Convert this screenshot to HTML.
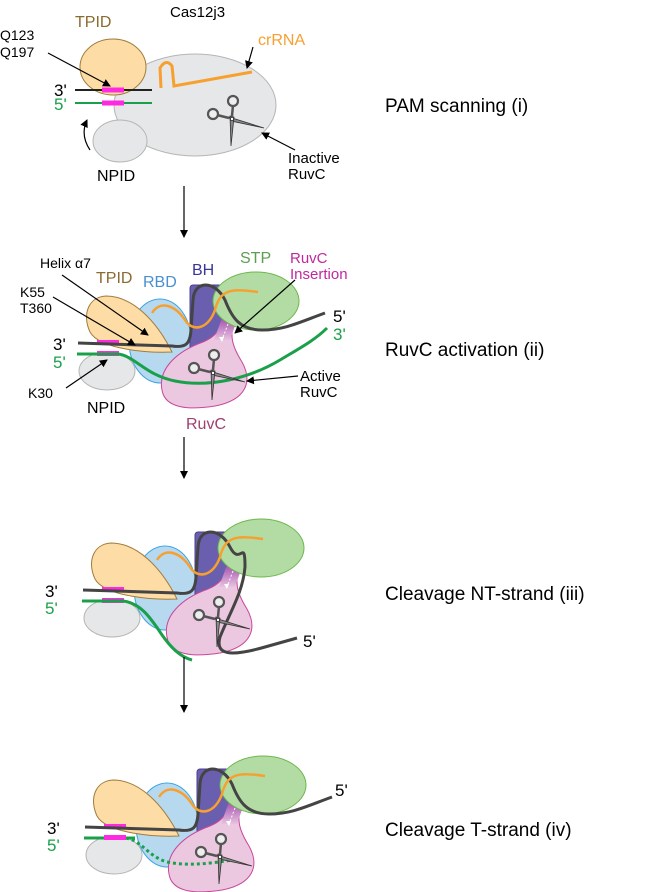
<!DOCTYPE html>
<html><head><meta charset="utf-8"><style>
html,body{margin:0;padding:0;background:#fff}
svg{display:block}
text{font-family:"Liberation Sans",sans-serif}
</style></head><body>
<svg width="648" height="892" viewBox="0 0 648 892" xmlns="http://www.w3.org/2000/svg">
<defs>
<marker id="ah" markerWidth="8" markerHeight="8" refX="7" refY="4" orient="auto" markerUnits="userSpaceOnUse"><path d="M0,0 L8,4 L0,8 Z" fill="#000"/></marker>
<linearGradient id="ins" x1="0" y1="0" x2="0" y2="1"><stop offset="0" stop-color="#a64fb0"/><stop offset="1" stop-color="#e6c3df"/></linearGradient>
<g id="sc">
 <path d="M-3,-2 L32,9 L-1,2 Z" fill="#8a8a8a" stroke="#333" stroke-width="0.8"/>
 <path d="M-2,-3 L-1,27 L2,-2 Z" fill="#8a8a8a" stroke="#333" stroke-width="0.8"/>
 <path d="M-3,-1 L-15,-4" stroke="#555" stroke-width="2.5"/>
 <path d="M0,-3 L1,-14" stroke="#555" stroke-width="2.5"/>
 <circle cx="-19" cy="-5" r="5" fill="#eee" stroke="#555" stroke-width="2.2"/>
 <circle cx="1" cy="-18" r="5" fill="#eee" stroke="#555" stroke-width="2.2"/>
 <circle cx="0" cy="0" r="1.6" fill="#fff" stroke="#333" stroke-width="0.8"/>
</g>
<g id="body">
 <ellipse cx="160" cy="341" rx="31" ry="42" fill="#b7d9f0" stroke="#3aa5e0" stroke-width="1"/>
 <path d="M172,352 C150,353 100,350 90,332 C82,315 88,297 106,296 C132,296 156,320 172,352Z" fill="#fddca5" stroke="#a07c3c" stroke-width="1"/>
 <ellipse cx="107" cy="371" rx="28" ry="19" fill="#e6e7e8" stroke="#b5b5b5" stroke-width="1"/>
 <rect x="190" y="285" width="32" height="65" rx="3" fill="#6a5fae" stroke="#4a3f90" stroke-width="1"/>
 <path d="M225,318 L235,320 C229,335 232,346 242,362 C253,382 246,400 215,406 C190,410 165,409 162,390 C158,370 175,352 203,342 C215,337 220,330 225,318Z" fill="#ecc8e0" stroke="#c8479c" stroke-width="1"/>
 <path d="M222,318 L237,320 L230,340 L214,340Z" fill="url(#ins)"/>
 <path d="M228,324 L222,340" stroke="#fff" stroke-width="1" stroke-dasharray="2,2"/>
 <path d="M219,337 L222,342 L224,337Z" fill="#fff"/>
 <ellipse cx="256" cy="301" rx="43" ry="29" fill="#b3dba4" stroke="#6cb84c" stroke-width="1"/>
 <rect x="97" y="340" width="22" height="5" fill="#ff2ae0"/>
 <rect x="97" y="351" width="22" height="5" fill="#ff2ae0"/>
</g>
</defs>

<!-- Panel i -->
<text x="170" y="17" font-size="15">Cas12j3</text>
<text x="75" y="27" font-size="16" fill="#8b6a2f">TPID</text>
<text x="0" y="40" font-size="14">Q123</text>
<text x="0" y="57" font-size="14">Q197</text>
<text x="258" y="45" font-size="16" fill="#f7a030">crRNA</text>
<ellipse cx="195" cy="105" rx="81" ry="51" fill="#e6e7e8" stroke="#b5b5b5" stroke-width="1"/>
<ellipse cx="113" cy="67" rx="33" ry="28" fill="#fddca5" stroke="#a07c3c" stroke-width="1"/>
<ellipse cx="120" cy="141" rx="27" ry="21" fill="#e6e7e8" stroke="#b5b5b5" stroke-width="1"/>
<line x1="75" y1="90" x2="152" y2="90" stroke="#222" stroke-width="2"/>
<line x1="75" y1="103" x2="152" y2="103" stroke="#1aa04a" stroke-width="2"/>
<rect x="102" y="87.5" width="22" height="5" fill="#ff2ae0"/>
<rect x="102" y="100.5" width="22" height="5" fill="#ff2ae0"/>
<path d="M161,88 L160,68 Q166,58 172,66 L174,86 L252,72" fill="none" stroke="#f7a030" stroke-width="3"/>
<use href="#sc" transform="translate(232,119)"/>
<line x1="48" y1="53" x2="110" y2="86" stroke="#000" stroke-width="1.2" marker-end="url(#ah)"/>
<line x1="253" y1="47" x2="247" y2="68" stroke="#000" stroke-width="1.2" marker-end="url(#ah)"/>
<line x1="295" y1="150" x2="262" y2="133" stroke="#000" stroke-width="1.2" marker-end="url(#ah)"/>
<path d="M90,150 Q80,135 87,120" fill="none" stroke="#000" stroke-width="1.2" marker-end="url(#ah)"/>
<text x="54" y="96" font-size="17">3'</text>
<text x="54" y="110" font-size="17" fill="#1aa04a">5'</text>
<text x="97" y="181" font-size="16">NPID</text>
<text x="288" y="163" font-size="15">Inactive</text>
<text x="288" y="179" font-size="15">RuvC</text>
<text x="385" y="112" font-size="19">PAM scanning (i)</text>

<line x1="184" y1="186" x2="184" y2="237" stroke="#000" stroke-width="1.2" marker-end="url(#ah)"/>

<!-- Panel ii -->
<use href="#body"/>
<path d="M78,343 L172,346 C186,348 190,344 191,330 L193,300 C194,280 215,280 225,300 C232,318 240,330 262,330 C285,330 300,322 325,313" fill="none" stroke="#444" stroke-width="3"/>
<path d="M152,313 C160,300 175,305 185,320 C192,332 208,330 215,310 C220,290 230,288 258,292" fill="none" stroke="#f7a030" stroke-width="2.5"/>
<path d="M77,354 L118,354 C135,356 145,375 175,381 C210,388 250,378 280,360 C300,348 315,340 327,328" fill="none" stroke="#1aa04a" stroke-width="3"/>
<use href="#sc" transform="translate(213,373)"/>
<text x="40" y="268" font-size="14">Helix α7</text>
<text x="96" y="283" font-size="16" fill="#8b6a2f">TPID</text>
<text x="143" y="287" font-size="16" fill="#4a90d0">RBD</text>
<text x="192" y="275" font-size="16" fill="#3b3598">BH</text>
<text x="240" y="263" font-size="16" fill="#5aa050">STP</text>
<text x="290" y="263" font-size="15" fill="#c0289e">RuvC</text>
<text x="290" y="279" font-size="15" fill="#c0289e">Insertion</text>
<text x="20" y="297" font-size="14">K55</text>
<text x="20" y="313" font-size="14">T360</text>
<text x="53" y="350" font-size="17">3'</text>
<text x="53" y="368" font-size="17" fill="#1aa04a">5'</text>
<text x="28" y="398" font-size="14">K30</text>
<text x="87" y="413" font-size="16">NPID</text>
<text x="333" y="322" font-size="17">5'</text>
<text x="333" y="340" font-size="17" fill="#1aa04a">3'</text>
<text x="300" y="381" font-size="15">Active</text>
<text x="300" y="397" font-size="15">RuvC</text>
<text x="186" y="429" font-size="16" fill="#a0406f">RuvC</text>
<line x1="62" y1="275" x2="148" y2="335" stroke="#000" stroke-width="1.2" marker-end="url(#ah)"/>
<line x1="53" y1="297" x2="135" y2="345" stroke="#000" stroke-width="1.2" marker-end="url(#ah)"/>
<line x1="66" y1="388" x2="107" y2="360" stroke="#000" stroke-width="1.2" marker-end="url(#ah)"/>
<line x1="295" y1="280" x2="235" y2="333" stroke="#000" stroke-width="1.2" marker-end="url(#ah)"/>
<line x1="298" y1="376" x2="247" y2="381" stroke="#000" stroke-width="1.2" marker-end="url(#ah)"/>
<text x="385" y="356" font-size="19">RuvC activation (ii)</text>

<line x1="184" y1="437" x2="184" y2="478" stroke="#000" stroke-width="1.2" marker-end="url(#ah)"/>

<!-- Panel iii -->
<g transform="translate(5,247)">
<use href="#body"/>
<path d="M78,343 L172,346 C186,348 190,344 191,330 L193,300 C194,280 215,280 225,300 C235,320 240,290 240,320 C238,345 225,365 215,390 C210,408 225,410 260,400 L292,391" fill="none" stroke="#444" stroke-width="3"/>
<path d="M152,313 C160,300 175,305 185,320 C192,332 208,330 215,310 C220,290 230,288 258,292" fill="none" stroke="#f7a030" stroke-width="2.5"/>
<path d="M77,354 L118,354 C135,356 145,370 155,385 C165,400 175,410 187,413" fill="none" stroke="#1aa04a" stroke-width="3"/>
<use href="#sc" transform="translate(213,373)"/>
<text x="40" y="350" font-size="17">3'</text>
<text x="40" y="367" font-size="17" fill="#1aa04a">5'</text>
<text x="298" y="400" font-size="17">5'</text>
</g>
<text x="385" y="600" font-size="19">Cleavage NT-strand (iii)</text>

<line x1="184" y1="657" x2="184" y2="712" stroke="#000" stroke-width="1.2" marker-end="url(#ah)"/>

<!-- Panel iv -->
<g transform="translate(7,484)">
<use href="#body"/>
<path d="M78,343 L172,346 C186,348 190,344 191,330 L193,300 C194,280 215,280 225,300 C232,318 240,330 262,330 C285,330 300,322 325,313" fill="none" stroke="#444" stroke-width="3"/>
<path d="M152,313 C160,300 175,305 185,320 C192,332 208,330 215,310 C220,290 230,288 258,292" fill="none" stroke="#f7a030" stroke-width="2.5"/>
<path d="M77,354 L118,354 C135,356 140,372 160,378 C180,382 200,380 225,376" fill="none" stroke="#1aa04a" stroke-width="3" stroke-dasharray="3,3"/>
<line x1="77" y1="354" x2="128" y2="354" stroke="#1aa04a" stroke-width="3"/>
<rect x="97" y="351" width="22" height="5" fill="#ff2ae0"/>
<use href="#sc" transform="translate(213,373)"/>
<text x="40" y="350" font-size="17">3'</text>
<text x="40" y="367" font-size="17" fill="#1aa04a">5'</text>
<text x="328" y="312" font-size="17">5'</text>
</g>
<text x="385" y="836" font-size="19">Cleavage T-strand (iv)</text>
</svg>
</body></html>
